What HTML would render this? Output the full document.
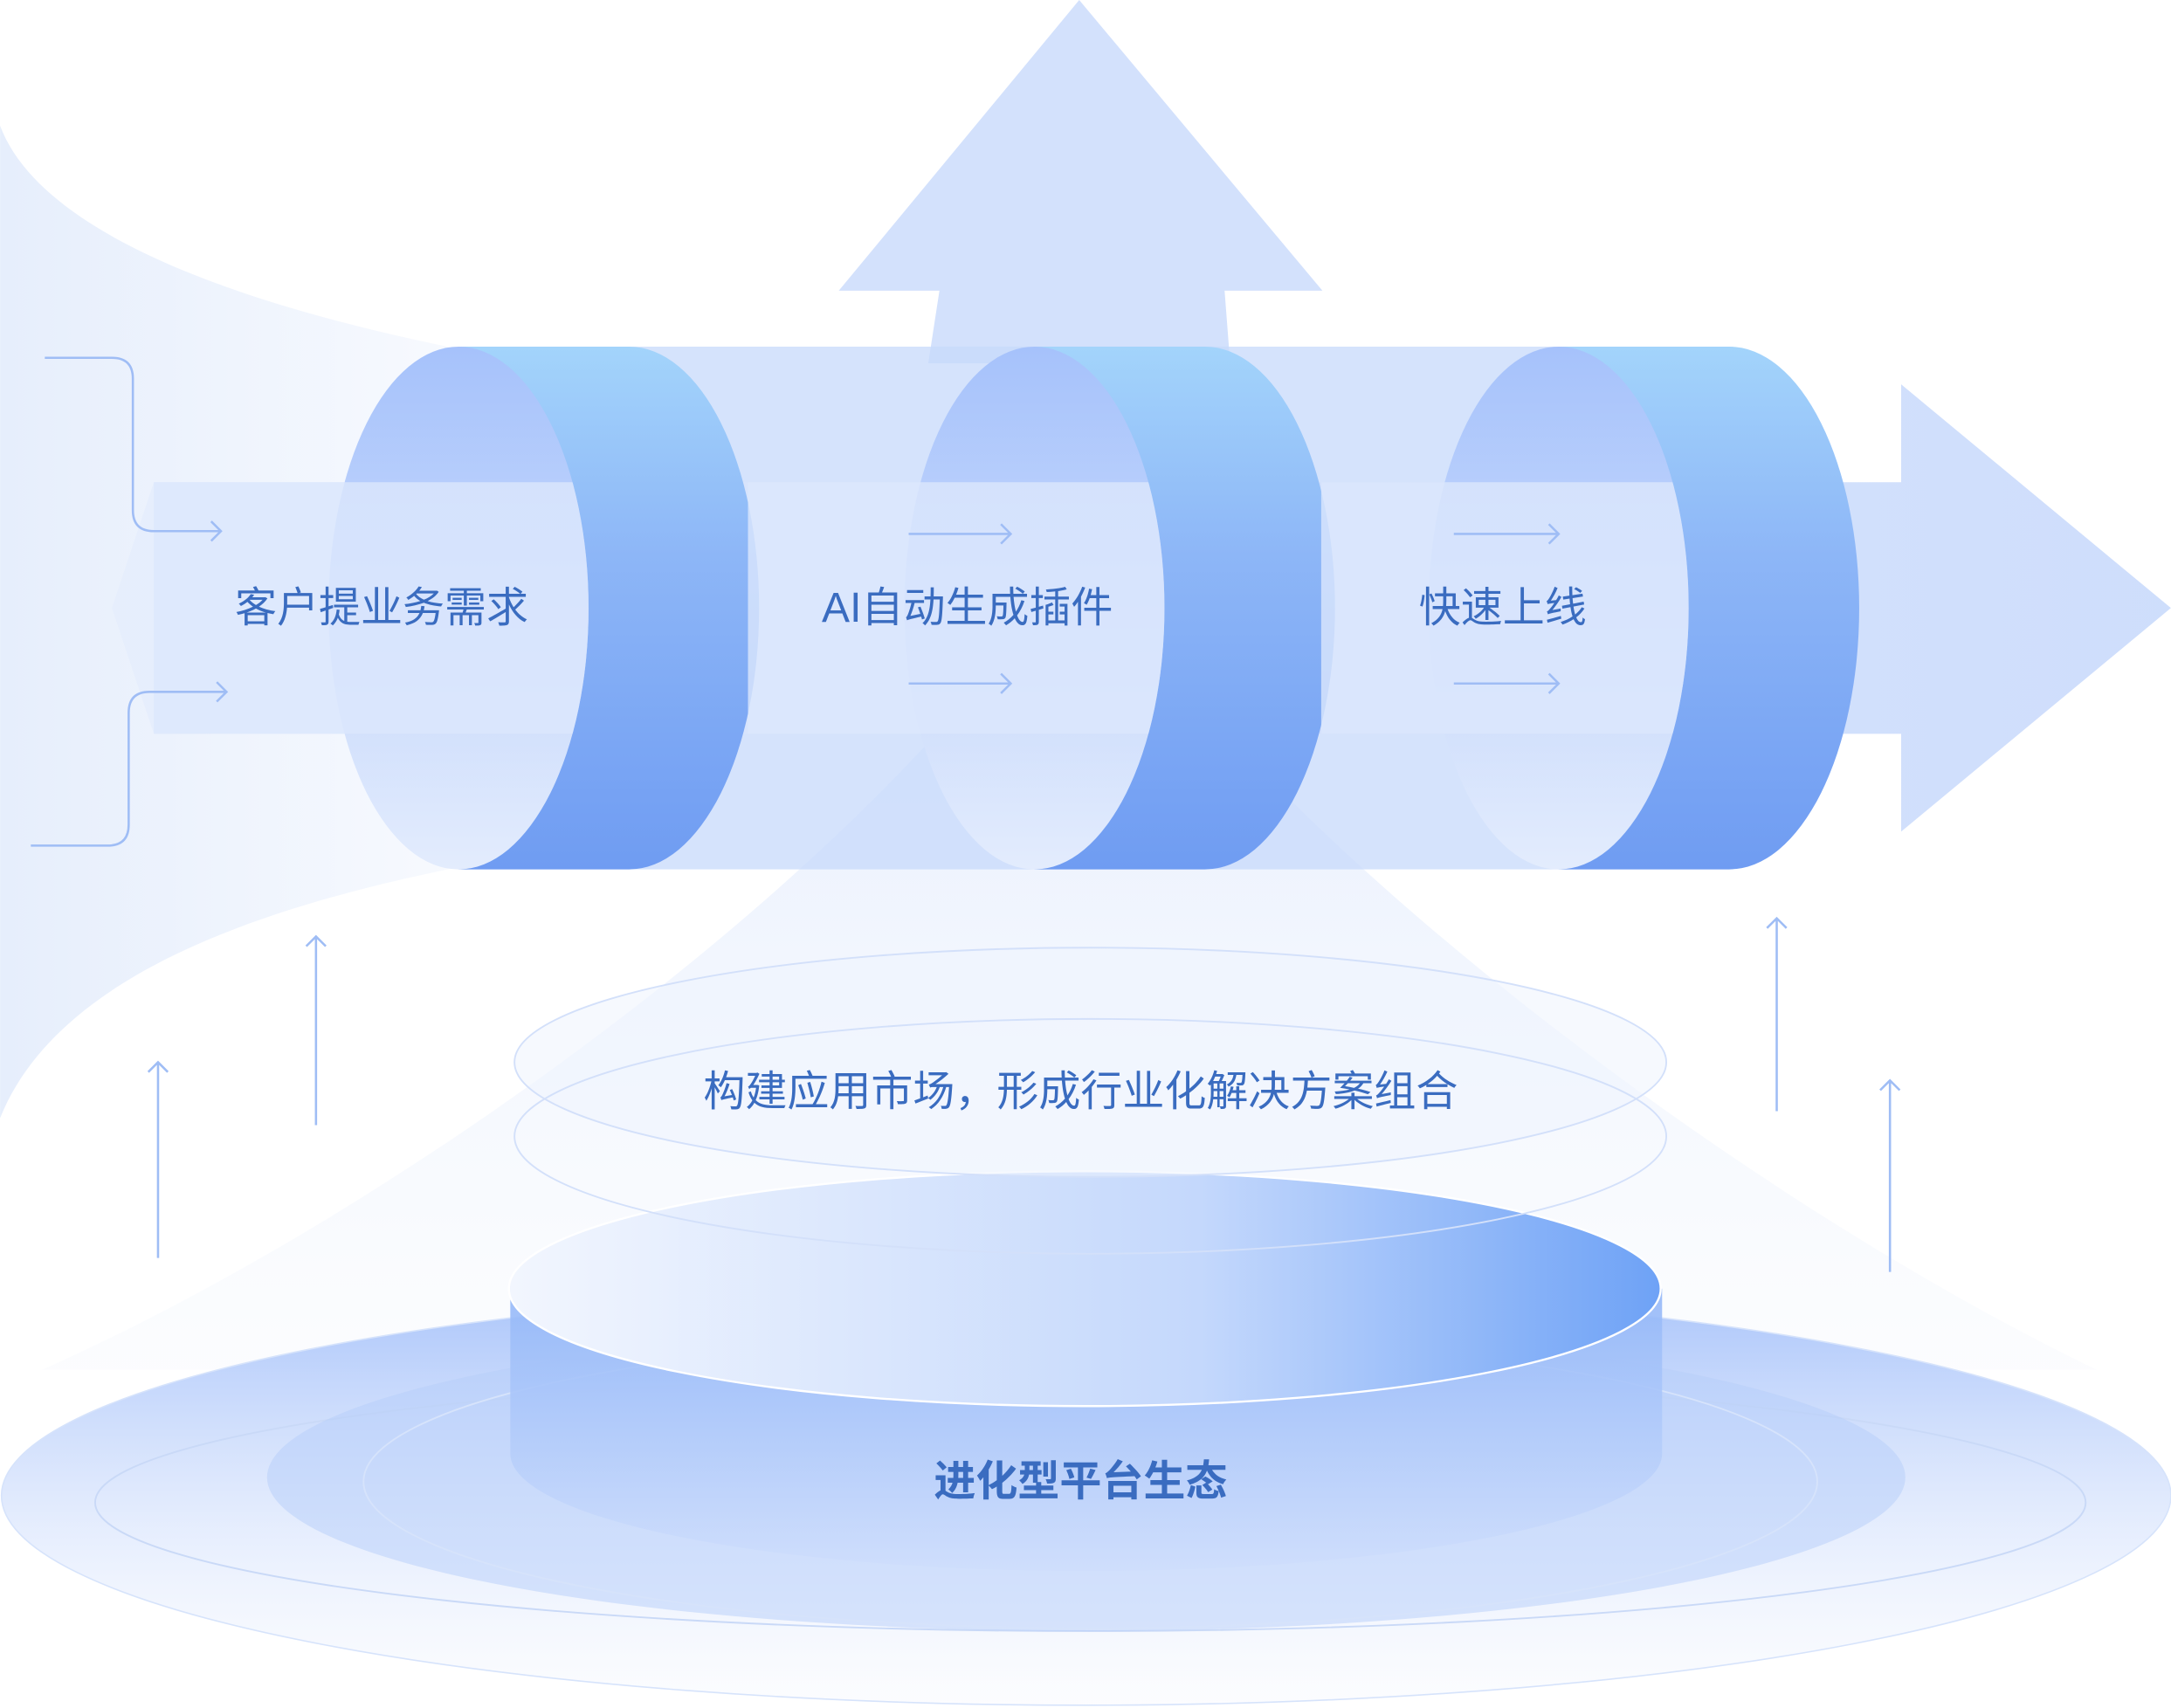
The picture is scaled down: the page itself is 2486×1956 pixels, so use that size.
<!DOCTYPE html>
<html><head><meta charset="utf-8"><style>
html,body{margin:0;padding:0;background:#fff;}
svg{display:block;}
text{font-family:"Liberation Sans","Noto Sans CJK SC",sans-serif;fill:#3a6cc0;text-anchor:middle;dominant-baseline:middle;}
</style></head><body>
<svg width="2486" height="1956" viewBox="0 0 1553 1222" xmlns="http://www.w3.org/2000/svg">
<defs>
<linearGradient id="swoosh" x1="0" x2="1" y1="0" y2="0"><stop offset="0" stop-color="#e6eefc"/><stop offset="1" stop-color="#e6eefc" stop-opacity="0.3"/></linearGradient>
<linearGradient id="cone" x1="0" x2="0" y1="0" y2="1"><stop offset="0" stop-color="#d6e3fb"/><stop offset="1" stop-color="#eef3fd" stop-opacity="0.3"/></linearGradient>
<linearGradient id="ring" x1="0" x2="0" y1="0" y2="1"><stop offset="0" stop-color="#a3d4fb"/><stop offset="0.4" stop-color="#8db6f7"/><stop offset="1" stop-color="#6f9cf2"/></linearGradient>
<linearGradient id="inner" x1="0" x2="0" y1="0" y2="1"><stop offset="0" stop-color="#a6c2fb"/><stop offset="1" stop-color="#e3ecfd"/></linearGradient>
<linearGradient id="band" x1="0" x2="1"><stop offset="0" stop-color="#e2ebfd" stop-opacity="0.6"/><stop offset="0.5" stop-color="#d3e1fc"/><stop offset="1" stop-color="#c9dafb"/></linearGradient>
<linearGradient id="disc" x1="0" x2="0" y1="0" y2="1"><stop offset="0" stop-color="#a9c4fa"/><stop offset="1" stop-color="#f4f7fe" stop-opacity="0.3"/></linearGradient>
<linearGradient id="cyl" x1="0" x2="0" y1="0" y2="1"><stop offset="0" stop-color="#93b7f8"/><stop offset="1" stop-color="#cfdefc"/></linearGradient>
<linearGradient id="cyltop" x1="0" x2="1"><stop offset="0" stop-color="#f2f6fe"/><stop offset="0.6" stop-color="#c4d8fc"/><stop offset="1" stop-color="#6ea2f6"/></linearGradient>
<clipPath id="c1"><rect x="0" y="0" width="328" height="1222"/><ellipse cx="328" cy="435" rx="93" ry="187"/></clipPath>
<clipPath id="c2"><rect x="535" y="0" width="205" height="1222"/><ellipse cx="740" cy="435" rx="93" ry="187"/></clipPath>
<clipPath id="c3"><rect x="945" y="0" width="170" height="1222"/><ellipse cx="1115" cy="435" rx="93" ry="187"/></clipPath>
</defs>
<path d="M0,90 C30,170 180,220 330,250 L330,620 C180,650 40,700 0,800 Z" fill="url(#swoosh)"/>
<path d="M772,390 C650,600 300,860 30,980 L1500,980 C1250,860 900,600 772,390Z" fill="url(#cone)" opacity="0.7"/>
<ellipse cx="777" cy="1070" rx="776" ry="150" fill="url(#disc)"/>
<ellipse cx="780" cy="1075" rx="712" ry="92" fill="none" stroke="#c9d9f7" stroke-width="1.2"/>
<ellipse cx="777" cy="1057" rx="586" ry="110" fill="#b6cdfa" opacity="0.5"/>
<ellipse cx="780" cy="1060" rx="520" ry="105" fill="none" stroke="#d6e3fb" stroke-width="1.2"/>
<ellipse cx="777" cy="1070" rx="776" ry="150" fill="none" stroke="#d6e3fb" stroke-width="1"/>
<path d="M365,922 L365,1040 A412,84 0 0 0 1189,1040 L1189,922 Z" fill="url(#cyl)" opacity="0.9"/>
<ellipse cx="776" cy="922" rx="412" ry="84" fill="url(#cyltop)" stroke="#ffffff" stroke-width="1.5"/>
<text x="773" y="1062" font-size="30" font-weight="600">进化型平台生态</text>
<ellipse cx="780" cy="760" rx="412" ry="82" fill="#eef3fd" fill-opacity="0.5" stroke="#d3e0fa" stroke-width="1.2"/>
<ellipse cx="780" cy="813" rx="412" ry="84" fill="none" stroke="#d3e0fa" stroke-width="1.2"/>
<text x="773" y="783" font-size="30">构建应用市场，形成行业化解决方案组合</text>
<path d="M772,0 L946,208 L876,208 L880,260 L664,260 L672,208 L600,208 Z" fill="#d3e1fc"/>
<rect x="330" y="248" width="910" height="374" fill="#c7d9fb" opacity="0.75"/>
<path d="M80,435 L110,345 L1360,345 L1360,275 L1553,435 L1360,595 L1360,525 L110,525 Z" fill="url(#band)" opacity="0.9"/>
<g>
<path d="M328,248 L450,248 A93,187 0 0 1 450,622 L328,622 Z" fill="url(#ring)"/>
<ellipse cx="328" cy="435" rx="93" ry="187" fill="url(#inner)"/>
<path d="M740,248 L862,248 A93,187 0 0 1 862,622 L740,622 Z" fill="url(#ring)"/>
<ellipse cx="740" cy="435" rx="93" ry="187" fill="url(#inner)"/>
<path d="M1115,248 L1237,248 A93,187 0 0 1 1237,622 L1115,622 Z" fill="url(#ring)"/>
<ellipse cx="1115" cy="435" rx="93" ry="187" fill="url(#inner)"/>
</g>
<rect x="110" y="345" width="320" height="180" fill="#dce7fd" opacity="0.8" clip-path="url(#c1)"/>
<rect x="535" y="345" width="310" height="180" fill="#dce7fd" opacity="0.8" clip-path="url(#c2)"/>
<rect x="945" y="345" width="270" height="180" fill="#dce7fd" opacity="0.8" clip-path="url(#c3)"/>
<text x="273" y="437" font-size="30">客户提业务需求</text>
<text x="692" y="437" font-size="30">AI自动生成插件</text>
<text x="1075" y="437" font-size="30">快速上线</text>
<g fill="none" stroke="#9fbdf5" stroke-width="1.6">
<path d="M32,256 L80,256 Q95,256 95,271 L95,365 Q95,380 110,380 L158,380 M151,373 L158,380 L151,387"/>
<path d="M22,605 L77,605 Q92,605 92,590 L92,510 Q92,495 107,495 L162,495 M155,488 L162,495 L155,502"/>
<path d="M650,382 L723,382 M716,375 L723,382 L716,389"/>
<path d="M650,489 L723,489 M716,482 L723,489 L716,496"/>
<path d="M1040,382 L1115,382 M1108,375 L1115,382 L1108,389"/>
<path d="M1040,489 L1115,489 M1108,482 L1115,489 L1108,496"/>
<path d="M113,900 L113,760 M106,767 L113,760 L120,767"/>
<path d="M226,805 L226,670 M219,677 L226,670 L233,677"/>
<path d="M1271,795 L1271,657 M1264,664 L1271,657 L1278,664"/>
<path d="M1352,910 L1352,773 M1345,780 L1352,773 L1359,780"/>
</g>
</svg>
</body></html>
